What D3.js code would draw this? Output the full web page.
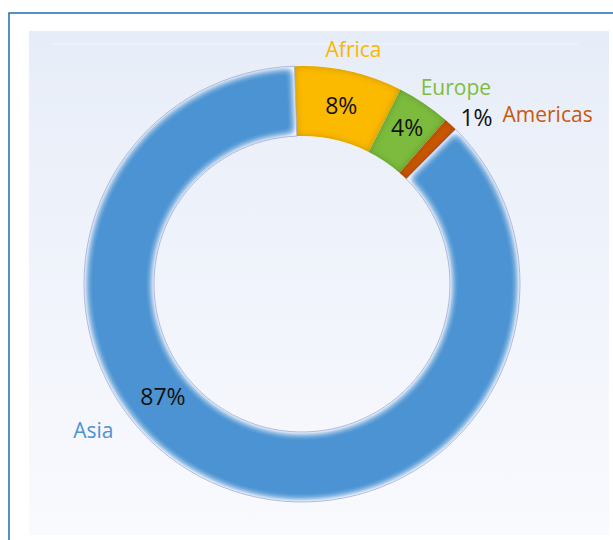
<!DOCTYPE html>
<html>
<head>
<meta charset="utf-8">
<script src="https://cdn.jsdelivr.net/npm/d3@7"></script>
<style>
  body { margin: 0; background: #fff; }
  svg { display: block; font-family: "Open Sans", sans-serif; }
</style>
</head>
<body>
<svg width="613" height="540"></svg>
<script>
var regions = ['Africa', 'Europe', 'Americas', 'Asia'];
var shares = [8, 4, 1, 87];
var fills = ['#fbb900', '#7bbb3d', '#cc5808', '#4b93d2'];
var nameColors = ['#f9b700', '#7dbd42', '#c9580c', '#4b93d2'];

var svg = d3.select('svg'),
	width = +svg.attr('width'),
	height = +svg.attr('height'),
	cx = 302, cy = 284,
	outer = 218, inner = 148;

var defs = svg.append('defs');

var bg = defs.append('linearGradient').attr('id', 'bg')
	.attr('x1', 0).attr('y1', 0).attr('x2', 0).attr('y2', 1);
bg.append('stop').attr('offset', '0%').attr('stop-color', '#e7edf8');
bg.append('stop').attr('offset', '100%').attr('stop-color', '#f9fafe');

// soft edges for the big slice
var soft = defs.append('filter').attr('id', 'soft')
	.attr('x', '-5%').attr('y', '-5%').attr('width', '110%').attr('height', '110%');
soft.append('feGaussianBlur').attr('in', 'SourceAlpha').attr('stdDeviation', 4.6).attr('result', 'b');
soft.append('feComponentTransfer').attr('in', 'b').attr('result', 'm')
	.append('feFuncA').attr('type', 'linear').attr('slope', 2.1).attr('intercept', -1.05);
soft.append('feComposite').attr('in', 'SourceGraphic').attr('in2', 'm').attr('operator', 'in');

// inner shadow / bevel for the small slices
var bevel = defs.append('filter').attr('id', 'bevel');
bevel.append('feGaussianBlur').attr('in', 'SourceAlpha').attr('stdDeviation', 3.5).attr('result', 'b');
bevel.append('feComposite').attr('in', 'SourceAlpha').attr('in2', 'b')
	.attr('operator', 'arithmetic').attr('k2', 1).attr('k3', -1).attr('result', 'edge');
bevel.append('feFlood').attr('flood-color', '#000').attr('flood-opacity', 0.42).attr('result', 'c');
bevel.append('feComposite').attr('in', 'c').attr('in2', 'edge').attr('operator', 'in').attr('result', 'sh');
var mg = bevel.append('feMerge');
mg.append('feMergeNode').attr('in', 'SourceGraphic');
mg.append('feMergeNode').attr('in', 'sh');

// frame and plot area
svg.append('rect')
	.attr('x', 9).attr('y', 13).attr('width', width + 20).attr('height', height + 20)
	.attr('fill', 'none').attr('stroke', '#2e75b6').attr('stroke-width', 1.6);
svg.append('rect')
	.attr('x', 29).attr('y', 31).attr('width', 580).attr('height', 504)
	.attr('fill', 'url(#bg)');
svg.append('line')
	.attr('x1', 51).attr('x2', 578).attr('y1', 44).attr('y2', 44)
	.attr('stroke', '#f3f6fc').attr('stroke-width', 1);

var start = -2 * Math.PI / 180;
var pie = d3.pie()
	.sort(null)
	.startAngle(start)
	.endAngle(start + 2 * Math.PI)
	.value(function(d){ return d; });

var path = d3.arc()
	.outerRadius(outer)
	.innerRadius(inner);

var arcs = pie(shares);

var g = svg.append('g').attr('transform', 'translate(' + cx + ',' + cy + ')');

var slice = g.selectAll('.slice')
	.data(arcs)
	.enter().append('g')
		.attr('class', 'slice');

slice.append('path')
	.attr('d', path)
	.attr('fill', function(d, i){ return fills[i]; })
	.attr('filter', function(d, i){ return regions[i] === 'Asia' ? 'url(#soft)' : 'url(#bevel)'; });

// thin outline round the big slice
g.append('path')
	.datum(arcs[3])
	.attr('d', path)
	.attr('fill', 'none')
	.attr('stroke', '#9eaad6')
	.attr('stroke-width', 0.8);

// label placement: radius and angle shift (degrees) from the slice middle
var valuePos = { Africa: [183, 0], Europe: [188, 0], Americas: [241, 3.4], Asia: [179, 29.6] };
var namePos = { Africa: [240, 0], Europe: [250, 4], Asia: [255, 33.5] };

function point(d, p){
	var a = (d.startAngle + d.endAngle) / 2 + p[1] * Math.PI / 180;
	return [p[0] * Math.sin(a), -p[0] * Math.cos(a)];
}

arcs.forEach(function(d, i){
	var name = regions[i];
	var vp = point(d, valuePos[name]);
	g.append('text')
		.attr('x', vp[0]).attr('y', vp[1])
		.attr('dy', '0.36em')
		.attr('text-anchor', 'middle')
		.attr('font-size', 23)
		.attr('fill', '#111')
		.text(shares[i] + '%');

	if (namePos[name]) {
		var np = point(d, namePos[name]);
		g.append('text')
			.attr('x', np[0]).attr('y', np[1])
			.attr('dy', '0.36em')
			.attr('text-anchor', 'middle')
			.attr('font-size', 21)
			.attr('fill', nameColors[i])
			.text(name);
	} else {
		g.append('text')
			.attr('x', vp[0] + 26).attr('y', vp[1] - 3)
			.attr('dy', '0.36em')
			.attr('text-anchor', 'start')
			.attr('font-size', 21)
			.attr('fill', nameColors[i])
			.text(name);
	}
});
</script>
</body>
</html>
